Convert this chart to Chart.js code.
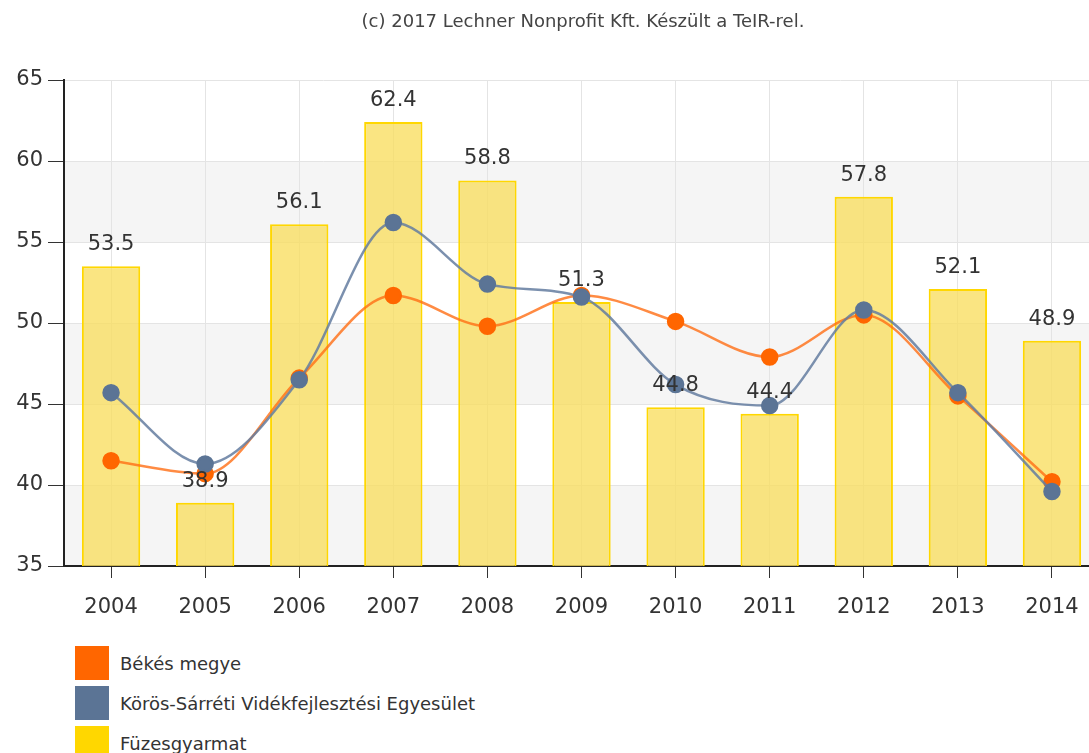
<!DOCTYPE html>
<html>
<head>
<meta charset="utf-8">
<script src="https://cdn.jsdelivr.net/npm/chart.js@4"></script>
<style>
html,body{margin:0;padding:0;background:#fff;overflow:hidden}
#doboz{position:relative;width:1166px;height:753px}
#cim{position:absolute;left:0;top:10px;width:1166px;text-align:center;font-family:"DejaVu Sans",sans-serif;font-size:18px;color:#444}
#legenda{position:absolute;left:75px;top:643px;font-family:"DejaVu Sans",sans-serif;font-size:18px;color:#333}
.legenda-sor{display:flex;align-items:center;height:40px}
.legenda-negyzet{width:34px;height:34px;margin-right:11px;flex:none}
</style>
</head>
<body>
<div id="doboz">
<canvas id="grafikon" width="1166" height="640"></canvas>
<div id="cim">(c) 2017 Lechner Nonprofit Kft. Készült a TeIR-rel.</div>
<div id="legenda"></div>
</div>
<script>

let evek=['2004','2005','2006','2007','2008','2009','2010','2011','2012','2013','2014']

let bekesMegye=[41.5,40.7,46.6,51.7,49.8,51.7,50.1,47.9,50.5,45.5,40.2]

let korosSarreti=[45.7,41.3,46.5,56.2,52.4,51.6,46.2,44.9,50.8,45.7,39.6]

let fuzesgyarmat=[53.5,38.9,56.1,62.4,58.8,51.3,44.8,44.4,57.8,52.1,48.9]

let yTengely=[35,40,45,50,55,60,65]

let betu='"DejaVu Sans", sans-serif'

// szurke sav minden masodik 5-os savban
let savok={
id:'savok',
beforeDraw(chart){
let y=chart.scales.y
let area=chart.chartArea
let ctx=chart.ctx
ctx.save()
ctx.fillStyle='#f5f5f5'
for(let i=0;i<yTengely.length-1;i+=2){
let felso=y.getPixelForValue(yTengely[i+1])
let also=y.getPixelForValue(yTengely[i])
ctx.fillRect(area.left,felso,area.right-area.left,also-felso)
}
ctx.restore()
}
}

// oszlopok erteke az oszlop folott
let oszlopCimkek={
id:'oszlopCimkek',
afterDatasetsDraw(chart){
let ctx=chart.ctx
chart.data.datasets.forEach((ds,i)=>{
if(ds.type!=='bar')return
let meta=chart.getDatasetMeta(i)
ctx.save()
ctx.font='21px '+betu
ctx.fillStyle='#333'
ctx.textAlign='center'
ctx.textBaseline='alphabetic'
meta.data.forEach((el,j)=>{
ctx.fillText(ds.data[j].toFixed(1),el.x,el.y-16)
})
ctx.restore()
})
}
}

let grafikon=new Chart(document.getElementById('grafikon'),{
data:{
labels:evek,
datasets:[
{
type:'line',
label:'Békés megye',
data:bekesMegye,
borderColor:'rgba(255,110,20,0.8)',
backgroundColor:'#ff6600',
pointBackgroundColor:'#ff6600',
pointBorderColor:'#ff6600',
borderWidth:2.5,
pointRadius:7.5,
cubicInterpolationMode:'monotone',
order:2
},
{
type:'line',
label:'Körös-Sárréti Vidékfejlesztési Egyesület',
data:korosSarreti,
borderColor:'rgba(100,125,160,0.85)',
backgroundColor:'#5b7495',
pointBackgroundColor:'#5b7495',
pointBorderColor:'#5b7495',
borderWidth:2.5,
pointRadius:7.5,
cubicInterpolationMode:'monotone',
order:1
},
{
type:'bar',
label:'Füzesgyarmat',
data:fuzesgyarmat,
backgroundColor:'rgba(248,222,95,0.78)',
borderColor:'#ffd700',
borderWidth:2,
barPercentage:0.62,
categoryPercentage:1,
order:3
}
]
},
options:{
responsive:false,
animation:false,
devicePixelRatio:1,
layout:{
padding:{left:0,right:67,top:80,bottom:22}
},
plugins:{
legend:{display:false},
tooltip:{enabled:false}
},
scales:{
x:{
offset:true,
grid:{
offset:false,
color:'#e4e4e4',
tickColor:'#333',
tickLength:12
},
border:{color:'#222',width:2},
ticks:{
color:'#333',
font:{family:betu,size:21},
padding:17,
maxRotation:0
},
afterFit(s){s.height=52}
},
y:{
min:35,
max:65,
grid:{
color:'#e4e4e4',
tickColor:'#333',
tickLength:16
},
border:{color:'#222',width:2},
ticks:{
stepSize:5,
color:'#333',
font:{family:betu,size:21},
padding:5
},
afterFit(s){s.width=64}
}
}
},
plugins:[savok,oszlopCimkek]
})

// jelmagyarazat a diagram alatt, egymas alatt
let html=''
grafikon.data.datasets.forEach(ds=>{
html+=`
<div class="legenda-sor">
<div class="legenda-negyzet" style="background:${ds.type==='bar'?'#ffd700':ds.pointBackgroundColor}"></div>
<div>${ds.label}</div>
</div>
`
})
document.getElementById('legenda').innerHTML=html

</script>
</body>
</html>
